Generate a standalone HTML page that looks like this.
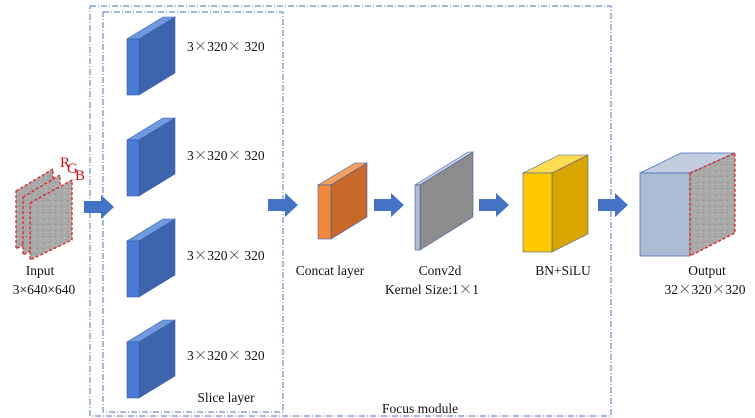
<!DOCTYPE html>
<html><head><meta charset="utf-8"><style>
html,body{margin:0;padding:0;background:#fff;}
svg{display:block;}
text{font-family:"Liberation Serif","Noto Serif CJK SC",serif;font-size:13.5px;fill:#111;}
</style></head><body>
<svg width="755" height="418" viewBox="0 0 755 418" xmlns="http://www.w3.org/2000/svg">
<defs>
<pattern id="tex" width="6" height="6" patternUnits="userSpaceOnUse">
<rect width="6" height="6" fill="#a9a9a9"/><rect x="1" y="2" width="1" height="1" fill="#8a8a8a"/><rect x="4" y="4" width="1" height="1" fill="#c4c4c4"/>
</pattern>
<g id="slab">
<polygon points="127,39 163,17 175,17 139,39" fill="#6f9ae0" stroke="#3a5fa8" stroke-width="0.6"/>
<polygon points="139,39 175,17 175,73 139,95" fill="#3d64ad" stroke="#3a5fa8" stroke-width="0.6"/>
<rect x="127" y="39" width="12" height="56" fill="#4a7bd6" stroke="#3a5fa8" stroke-width="0.6"/>
</g>
<g id="arr"><polygon points="0,-6 17,-6 17,-12 30,0 17,12 17,6 0,6" fill="#4472c4"/></g>
</defs>
<rect x="90" y="6" width="521" height="410" fill="none" stroke="#6f8fc0" stroke-width="1.2" stroke-dasharray="6,2,1,2"/>
<rect x="103" y="12" width="180" height="400" fill="none" stroke="#6f8fc0" stroke-width="1.2" stroke-dasharray="6,2,1,2"/>
<g stroke="#e02020" stroke-width="1.3" stroke-dasharray="3,2">
<polygon points="16,191 53,169 53,227 16,249" fill="url(#tex)"/>
<polygon points="23,197 60,175 60,233 23,255" fill="url(#tex)"/>
<polygon points="30,203 72,180 72,240 30,260" fill="url(#tex)"/>
</g>
<text x="60" y="167" style="fill:#d01010;font-size:15px">R</text>
<text x="67" y="173" style="fill:#d01010;font-size:15px">G</text>
<text x="75" y="180" style="fill:#d01010;font-size:15px">B</text>
<text x="40" y="275" text-anchor="middle">Input</text>
<text x="44" y="294" text-anchor="middle">3×640×640</text>
<use href="#slab"/>
<use href="#slab" y="101"/>
<use href="#slab" y="202"/>
<use href="#slab" y="303"/>
<text x="187" y="51">3<tspan font-family="Noto Serif CJK SC">×</tspan>320<tspan font-family="Noto Serif CJK SC">×</tspan> 320</text>
<text x="187" y="160">3<tspan font-family="Noto Serif CJK SC">×</tspan>320<tspan font-family="Noto Serif CJK SC">×</tspan> 320</text>
<text x="187" y="260">3<tspan font-family="Noto Serif CJK SC">×</tspan>320<tspan font-family="Noto Serif CJK SC">×</tspan> 320</text>
<text x="187" y="360">3<tspan font-family="Noto Serif CJK SC">×</tspan>320<tspan font-family="Noto Serif CJK SC">×</tspan> 320</text>
<text x="226" y="402" text-anchor="middle">Slice layer</text>
<text x="420" y="413" text-anchor="middle">Focus module</text>
<use href="#arr" x="84" y="207"/>
<use href="#arr" x="268" y="205"/>
<use href="#arr" x="374" y="205"/>
<use href="#arr" x="479" y="205"/>
<use href="#arr" x="598" y="205"/>
<polygon points="318,185 355,163 367,163 331,185" fill="#f4a060" stroke="#3a5fa8" stroke-width="0.6"/>
<polygon points="331,185 367,163 367,217 331,239" fill="#c8682a" stroke="#3a5fa8" stroke-width="0.6"/>
<rect x="318" y="185" width="13" height="54" fill="#ef8a3c" stroke="#3a5fa8" stroke-width="0.6"/>
<text x="330" y="275" text-anchor="middle">Concat layer</text>
<polygon points="415,185 468,152 473,152 420,185" fill="#c8d2e4" stroke="#3a5fa8" stroke-width="0.6"/>
<polygon points="420,185 473,152 473,217 420,250" fill="#8c8c8c" stroke="#3a5fa8" stroke-width="0.6"/>
<rect x="415" y="185" width="5" height="65" fill="#b4bccc" stroke="#3a5fa8" stroke-width="0.6"/>
<text x="440" y="275" text-anchor="middle">Conv2d</text>
<text x="432" y="294" text-anchor="middle">Kernel Size:1<tspan font-family="Noto Serif CJK SC">×</tspan>1</text>
<polygon points="523,173 559,155 588,155 552,173" fill="#ffdc50" stroke="#3a5fa8" stroke-width="0.6"/>
<polygon points="552,173 588,155 588,234 552,252" fill="#d9a600" stroke="#3a5fa8" stroke-width="0.6"/>
<rect x="523" y="173" width="29" height="79" fill="#ffc800" stroke="#3a5fa8" stroke-width="0.6"/>
<text x="563" y="275" text-anchor="middle">BN+SiLU</text>
<polygon points="640,173 681,153 735,153 690,173" fill="#c2cde0" stroke="#4a6fb8" stroke-width="0.8"/>
<rect x="640" y="173" width="50" height="83" fill="#aabbd3" stroke="#4a6fb8" stroke-width="0.8"/>
<polygon points="690,173 735,153 735,233 690,256" fill="url(#tex)" stroke="#e02020" stroke-width="1.3" stroke-dasharray="3,2"/>
<text x="707" y="275" text-anchor="middle">Output</text>
<text x="705" y="294" text-anchor="middle">32<tspan font-family="Noto Serif CJK SC">×</tspan>320<tspan font-family="Noto Serif CJK SC">×</tspan>320</text>
</svg>
</body></html>
